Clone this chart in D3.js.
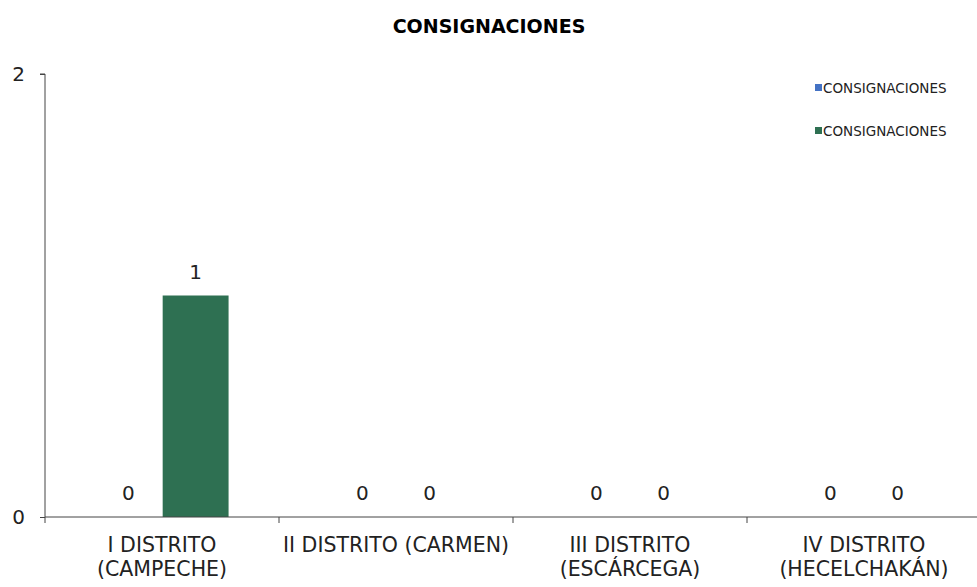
<!DOCTYPE html>
<html><head><meta charset="utf-8">
<script src="https://cdn.jsdelivr.net/npm/d3@7"></script>
<style>body{margin:0;background:#fff}svg{display:block}</style>
</head><body>
<svg id="c" width="977" height="587"></svg>
<script>
const categories = [["I DISTRITO","(CAMPECHE)"],["II DISTRITO (CARMEN)"],["III DISTRITO","(ESCÁRCEGA)"],["IV DISTRITO","(HECELCHAKÁN)"]];
const seriesNames = ["CONSIGNACIONES","CONSIGNACIONES"];
const seriesA = [0,0,0,0];
const seriesB = [1,0,0,0];
const colors = ["#4472C4","#2E7052"];
const yTicks = [0,2];

const font = "'DejaVu Sans', sans-serif";
const svg = d3.select("#c");
const x = d3.scaleBand().domain(d3.range(categories.length)).range([45,981]).paddingInner(0).paddingOuter(0);
const y = d3.scaleLinear().domain([0,2]).range([517,74]);
const sub = d3.scaleBand().domain([0,1]).range([0,x.bandwidth()]).paddingOuter(0.75).paddingInner(0.02);

svg.append("text").attr("x",489).attr("y",33).attr("text-anchor","middle")
  .attr("font-family",font).attr("font-weight","bold").attr("font-size",19).attr("fill","#000").text("CONSIGNACIONES");

const series = [seriesA, seriesB];
series.forEach((s,si)=>{
  svg.append("g").selectAll("rect").data(s).join("rect")
    .attr("x",(d,i)=>x(i)+sub(si)).attr("width",sub.bandwidth())
    .attr("y",d=>y(d)).attr("height",d=>y(0)-y(d)).attr("fill",colors[si]);
  svg.append("g").selectAll("text").data(s).join("text")
    .attr("x",(d,i)=>x(i)+sub(si)+sub.bandwidth()/2).attr("y",d=>y(d)-17)
    .attr("text-anchor","middle").attr("font-family",font).attr("font-size",20).attr("fill","#222").text(d=>d);
});

// y axis
const ya = svg.append("g").attr("transform","translate(45,0)")
  .call(d3.axisLeft(y).tickValues(yTicks).tickSize(5).tickPadding(15).tickFormat(d3.format("d")));
ya.select(".domain").attr("stroke","#444").attr("d","M-5,74H0V517");
ya.selectAll(".tick line").attr("stroke","#444");
ya.selectAll(".tick text").attr("font-family",font).attr("font-size",20).attr("fill","#222");

// x axis
const xa = svg.append("g").attr("transform","translate(0,517)");
xa.append("line").attr("x1",45).attr("x2",977).attr("stroke","#444");
xa.selectAll("line.t").data(d3.range(categories.length+1)).join("line").attr("class","t")
  .attr("x1",i=>45+i*x.bandwidth()).attr("x2",i=>45+i*x.bandwidth()).attr("y1",0).attr("y2",6).attr("stroke","#444");
categories.forEach((lines,i)=>{
  const t = xa.append("text").attr("x",x(i)+x.bandwidth()/2).attr("y",35).attr("text-anchor","middle")
    .attr("font-family",font).attr("font-size",20.5).attr("fill","#222");
  lines.forEach((l,j)=>t.append("tspan").attr("x",x(i)+x.bandwidth()/2).attr("dy",j?24:0).text(l));
});

// legend
seriesNames.forEach((n,i)=>{
  const g = svg.append("g").attr("transform",`translate(815,${88+i*43})`);
  g.append("rect").attr("x",0).attr("y",-4).attr("width",7).attr("height",7).attr("fill",colors[i]);
  g.append("text").attr("x",8).attr("y",4.5).attr("font-family",font).attr("font-size",13.5).attr("fill","#222").text(n);
});
</script>
</body></html>
